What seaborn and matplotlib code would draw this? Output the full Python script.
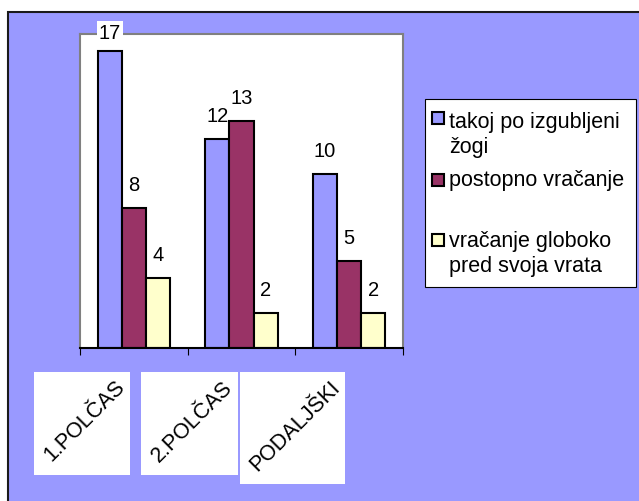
import matplotlib
matplotlib.use("Agg")
import matplotlib.pyplot as plt
from matplotlib.patches import Rectangle
import pandas as pd
import seaborn as sns

# Podatki
faze = ['1.POLČAS', '2.POLČAS', 'PODALJŠKI']
tipi = ['takoj po izgubljeni\nžogi', 'postopno vračanje', 'vračanje globoko\npred svoja vrata']
takoj = [17, 12, 10]
postopno = [8, 13, 5]
globoko = [4, 2, 2]
barve = ['#9999FF', '#993366', '#FFFFCC']

df = pd.DataFrame({
    'faza': faze * 3,
    'tip': [tipi[0]] * 3 + [tipi[1]] * 3 + [tipi[2]] * 3,
    'n': takoj + postopno + globoko,
})

plt.rcParams['font.family'] = ['Liberation Sans', 'DejaVu Sans']
W, H = 639, 502
fig = plt.figure(figsize=(W / 100, H / 100), dpi=100)
fig.patch.set_facecolor('white')

def px(x0, y0, x1, y1):
    # piksli (od zgoraj levo) -> koordinate slike
    return (x0 / W, 1 - y1 / H), (x1 - x0) / W, (y1 - y0) / H

# okvir z modrim ozadjem
fig.add_artist(Rectangle((8 / W, -0.1), 1.2, 1 - 13 / H + 0.1, transform=fig.transFigure,
                         facecolor='#9999FF', edgecolor='#1a1a1a', lw=1.5, zorder=-3))

xy, w, h = px(80, 35, 403, 349)
ax = fig.add_axes([xy[0], xy[1], w, h])
ax.set_facecolor('white')

sns.barplot(data=df, x='faza', y='n', hue='tip', hue_order=tipi, order=faze, palette=barve,
            saturation=1, width=0.67, gap=0, edgecolor='black', linewidth=1.5,
            legend=False, ax=ax)

ax.set_ylim(0, 18)
ax.set_xlim(-0.5, 2.5)
ax.set_yticks([])
ax.set_xlabel('')
ax.set_ylabel('')
for s in ['top', 'right', 'left']:
    ax.spines[s].set_color('#808080')
    ax.spines[s].set_linewidth(1.5)
ax.spines['top'].set_zorder(0.8)
ax.spines['bottom'].set_color('black')
ax.spines['bottom'].set_linewidth(1.5)

ax.set_xticks([-0.5, 0.5, 1.5, 2.5], minor=True)
ax.tick_params(axis='x', which='minor', length=5, width=0.8, color='black', direction='out')
ax.tick_params(axis='x', which='major', length=0, labelbottom=False)

# oznake kategorij (zasukane)
oznake = []
for i, f in enumerate(faze):
    t = ax.annotate(f, xy=(i, 0), xycoords=('data', 'axes fraction'),
                    xytext=(-3.5, -20), textcoords='offset points',
                    rotation=45, ha='right', va='top', fontsize=15.5, annotation_clip=False)
    oznake.append(t)

# oznake vrednosti
for cont in ax.containers:
    for bar in cont:
        v = bar.get_height()
        y = min(v + 1.03, 17.77)
        ax.text(bar.get_x() + bar.get_width() / 2, y, f'{int(v)}', ha='center', va='baseline',
                fontsize=14.5, clip_on=False, zorder=0.9,
                bbox=dict(facecolor='white', edgecolor='none', pad=1.5))

# legenda
xy, w, h = px(425, 100, 636, 288)
fig.add_artist(Rectangle(xy, w, h, transform=fig.transFigure, facecolor='white',
                         edgecolor='black', lw=0.8))
for lab, col, yc, yb in zip(tipi, barve, [118.5, 180.5, 240.5], [128, 186, 247]):
    xy, w, h = px(432, yc - 6, 444, yc + 6)
    fig.add_artist(Rectangle(xy, w, h, transform=fig.transFigure, facecolor=col,
                             edgecolor='black', lw=1.5))
    for k, vrstica in enumerate(lab.split('\n')):
        fig.text(449 / W, 1 - (yb + 25.5 * k) / H, vrstica, fontsize=15.5,
                 va='baseline', ha='left')

# bele škatle za oznake kategorij
fig.canvas.draw()
r = fig.canvas.get_renderer()
inv = fig.transFigure.inverted()
for t in oznake:
    bb = t.get_window_extent(r)
    (x0, y0) = inv.transform((bb.x0 - 6, bb.y0 - 10))
    (x1, y1) = inv.transform((bb.x1 + 1, bb.y1 + 4))
    fig.add_artist(Rectangle((x0, y0), x1 - x0, y1 - y0, transform=fig.transFigure,
                             facecolor='white', edgecolor='none', zorder=-1))

fig.savefig('out.png', dpi=100)
